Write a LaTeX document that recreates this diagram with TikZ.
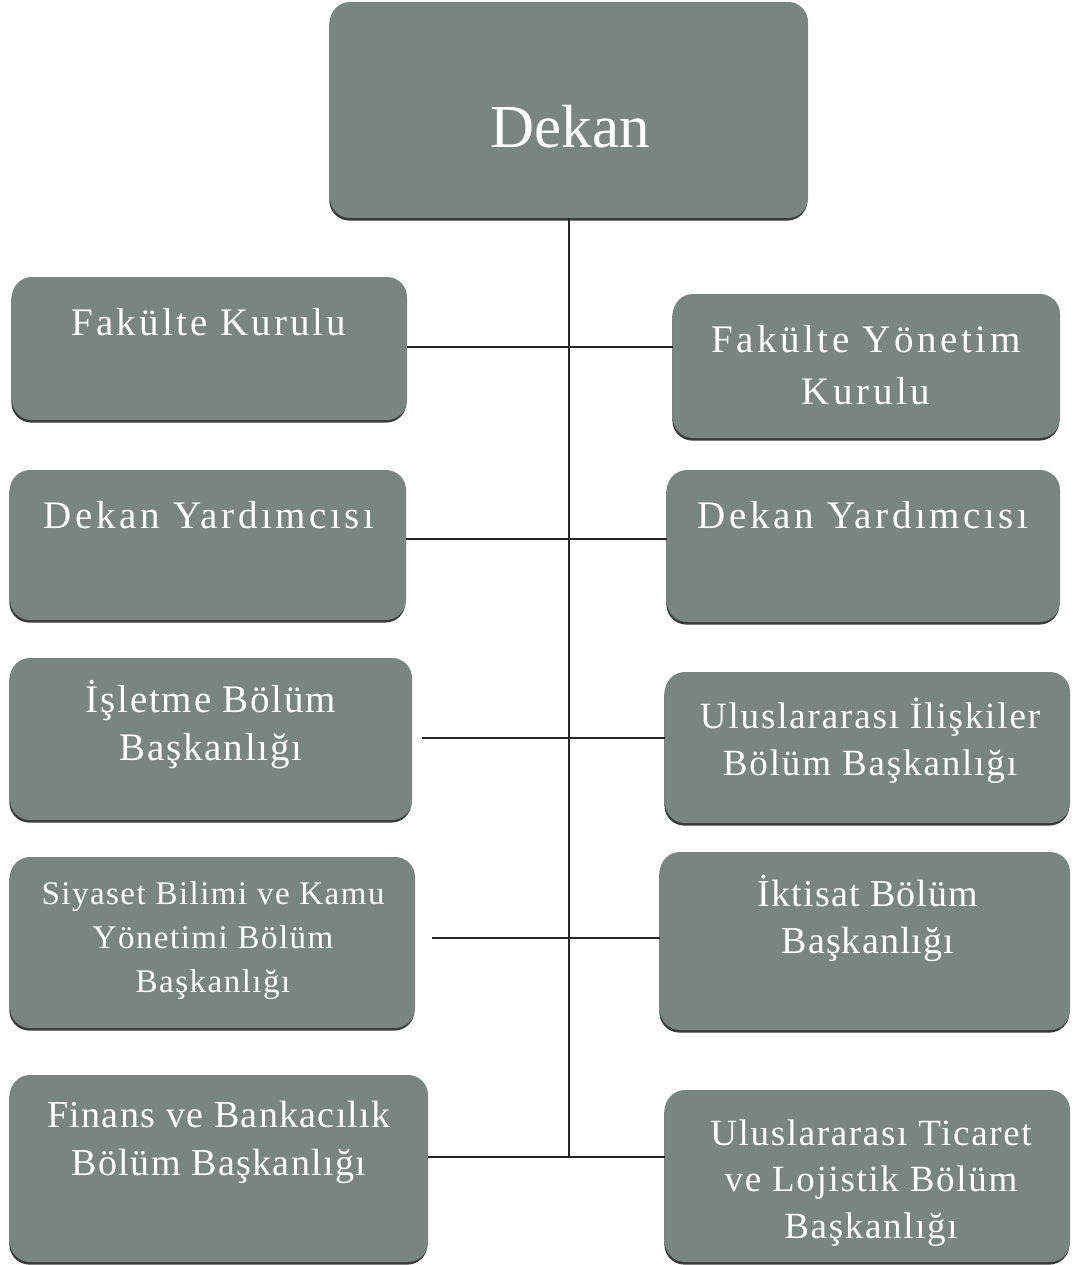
\documentclass[tikz,border=0pt]{standalone}
\usepackage{fontspec}
\setmainfont{Liberation Serif}
\usetikzlibrary{shadows}
\definecolor{boxfill}{RGB}{120,134,127}
\definecolor{boxdark}{RGB}{55,60,57}
\newcommand{\lines}[3]{{\fontsize{#1}{#2}\selectfont\begin{tabular}[t]{@{}c@{}}#3\end{tabular}}}
\tikzset{
  orgbox/.style={rectangle, rounded corners=20pt, fill=boxfill, draw=none, inner sep=0pt,
    drop shadow={shadow xshift=-0.6pt, shadow yshift=-2.6pt, fill=boxdark, opacity=1}},
  txt/.style={text=white, inner sep=0pt, anchor=base},
  conn/.style={draw=black!85, line width=1.5pt}
}
\begin{document}
\begin{tikzpicture}[x=1pt, y=-1pt]
\useasboundingbox (0,0) rectangle (1074,1265);
% boxes
\node[orgbox, minimum width=478pt, minimum height=216pt] (dekan) at (569,110) {};
\node[orgbox, minimum width=395pt, minimum height=143pt] (fk) at (209.5,348.5) {};
\node[orgbox, minimum width=387pt, minimum height=144pt] (fyk) at (866.5,366) {};
\node[orgbox, minimum width=396pt, minimum height=150pt] (dyl) at (208,545) {};
\node[orgbox, minimum width=393pt, minimum height=152pt] (dyr) at (863.5,546) {};
\node[orgbox, minimum width=402pt, minimum height=162pt] (isl) at (211,739) {};
\node[orgbox, minimum width=405pt, minimum height=151pt] (uil) at (867.5,747.5) {};
\node[orgbox, minimum width=405pt, minimum height=171pt] (sby) at (212.5,942.5) {};
\node[orgbox, minimum width=410pt, minimum height=178pt] (ikt) at (865,941) {};
\node[orgbox, minimum width=418pt, minimum height=187pt] (fin) at (219,1168.5) {};
\node[orgbox, minimum width=405pt, minimum height=172pt] (utl) at (867.5,1176) {};
% texts
\node[txt] (tdekan) at (570,148) {\lines{61}{70}{Dekan}};
\node[txt] (tfk) at (209,335) {\addfontfeatures{LetterSpace=8}\lines{39}{50}{Fakülte Kurulu}};
\node[txt] (tfyk) at (866,352) {\addfontfeatures{LetterSpace=9}\lines{39}{52}{Fakülte Yönetim\\Kurulu}};
\node[txt] (tdyl) at (209,528) {\addfontfeatures{LetterSpace=9}\lines{39}{50}{Dekan Yardımcısı}};
\node[txt] (tdyr) at (863,528) {\addfontfeatures{LetterSpace=9}\lines{39}{50}{Dekan Yardımcısı}};
\node[txt] (tisl) at (211,712) {\addfontfeatures{LetterSpace=4.5}\lines{39}{48}{İşletme Bölüm\\Başkanlığı}};
\node[txt] (tuil) at (870,728) {\addfontfeatures{LetterSpace=5}\lines{37}{47}{Uluslararası İlişkiler\\Bölüm Başkanlığı}};
\node[txt] (tsby) at (213,904) {\addfontfeatures{LetterSpace=4.5}\lines{33}{44}{Siyaset Bilimi ve Kamu\\Yönetimi Bölüm\\Başkanlığı}};
\node[txt] (tikt) at (868,906) {\addfontfeatures{LetterSpace=3}\lines{38}{47.5}{İktisat Bölüm\\Başkanlığı}};
\node[txt] (tfin) at (219,1127) {\addfontfeatures{LetterSpace=3.5}\lines{38}{48}{Finans ve Bankacılık\\Bölüm Başkanlığı}};
\node[txt] (tutl) at (871,1145) {\addfontfeatures{LetterSpace=4.5}\lines{37}{46.5}{Uluslararası Ticaret\\ve Lojistik Bölüm\\Başkanlığı}};
% junction levels
\coordinate (j1) at (570,347);
\coordinate (j2) at (570,539);
\coordinate (j3) at (570,738);
\coordinate (j4) at (570,938);
\coordinate (j5) at (570,1157);
% connectors
\draw[conn] (dekan.south) -- (dekan.south |- j5);
\draw[conn] (fk.east |- j1) -- (fyk.west |- j1);
\draw[conn] (dyl.east |- j2) -- (dyr.west |- j2);
\draw[conn] ([xshift=10pt]isl.east |- j3) -- (uil.west |- j3);
\draw[conn] ([xshift=17pt]sby.east |- j4) -- (ikt.west |- j4);
\draw[conn] (fin.east |- j5) -- (utl.west |- j5);
\end{tikzpicture}
\end{document}
